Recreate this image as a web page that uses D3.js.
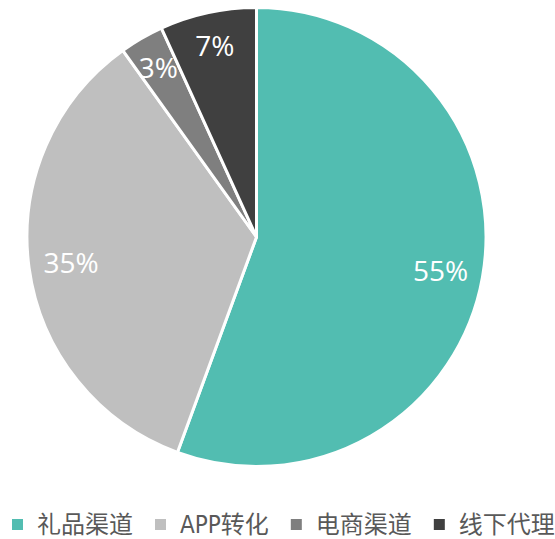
<!DOCTYPE html>
<html>
<head>
<meta charset="utf-8">
<script src="https://cdn.jsdelivr.net/npm/d3@7"></script>
<style>
  body { margin: 0; background: #fff; }
</style>
</head>
<body>
<svg id="chart" width="555" height="539"></svg>
<script>
// chart data (slice sizes, labels as printed)
const categories = ["礼品渠道", "APP转化", "电商渠道", "线下代理"];
const shares = [55.6, 34.5, 3.1, 6.8];
const percentLabels = ["55%", "35%", "3%", "7%"];
const colors = ["#52BDB1", "#BFBFBF", "#7F7F7F", "#404040"];

const cx = 256.5, cy = 237, radius = 229.5;

const svg = d3.select("#chart");

const pieGroup = svg.append("g").attr("transform", `translate(${cx},${cy})`);

const pie = d3.pie().sort(null).value((d) => d);
const arc = d3.arc().innerRadius(0).outerRadius(radius);

const arcs = pie(shares);

// slices
pieGroup
  .selectAll("path")
  .data(arcs)
  .enter()
  .append("path")
  .attr("d", arc)
  .attr("fill", (d, i) => colors[i])
  .attr("stroke", "#fff")
  .attr("stroke-width", 3)
  .attr("stroke-linejoin", "round");

// percent labels - thin slices get pushed a little further out
pieGroup
  .selectAll("text")
  .data(arcs)
  .enter()
  .append("text")
  .attr("transform", (d) => {
    const k = d.endAngle - d.startAngle < 0.5 ? 0.855 : 0.815;
    const [x, y] = d3.arc().innerRadius(radius * k).outerRadius(radius * k).centroid(d);
    return `translate(${x},${y + 1})`;
  })
  .attr("text-anchor", "middle")
  .attr("dy", "0.35em")
  .style("font-family", "'Open Sans', sans-serif")
  .style("font-size", "28px")
  .style("fill", "#fff")
  .text((d, i) => percentLabels[i]);

// legend
const legend = svg.append("g").attr("transform", "translate(0,524)");
let lx = 12;
categories.forEach((c, i) => {
  legend
    .append("rect")
    .attr("x", lx)
    .attr("y", -5)
    .attr("width", 11)
    .attr("height", 11)
    .attr("fill", colors[i]);
  const t = legend
    .append("text")
    .attr("x", lx + 25)
    .attr("y", 0)
    .attr("dy", "0.36em")
    .style("font-family", "'DejaVu Sans Condensed', 'Noto Sans CJK SC', sans-serif")
    .style("font-stretch", "condensed")
    .style("font-size", "24px")
    .style("fill", "#595959")
    .text(c);
  lx += 25 + t.node().getComputedTextLength() + 22;
});
</script>
</body>
</html>
